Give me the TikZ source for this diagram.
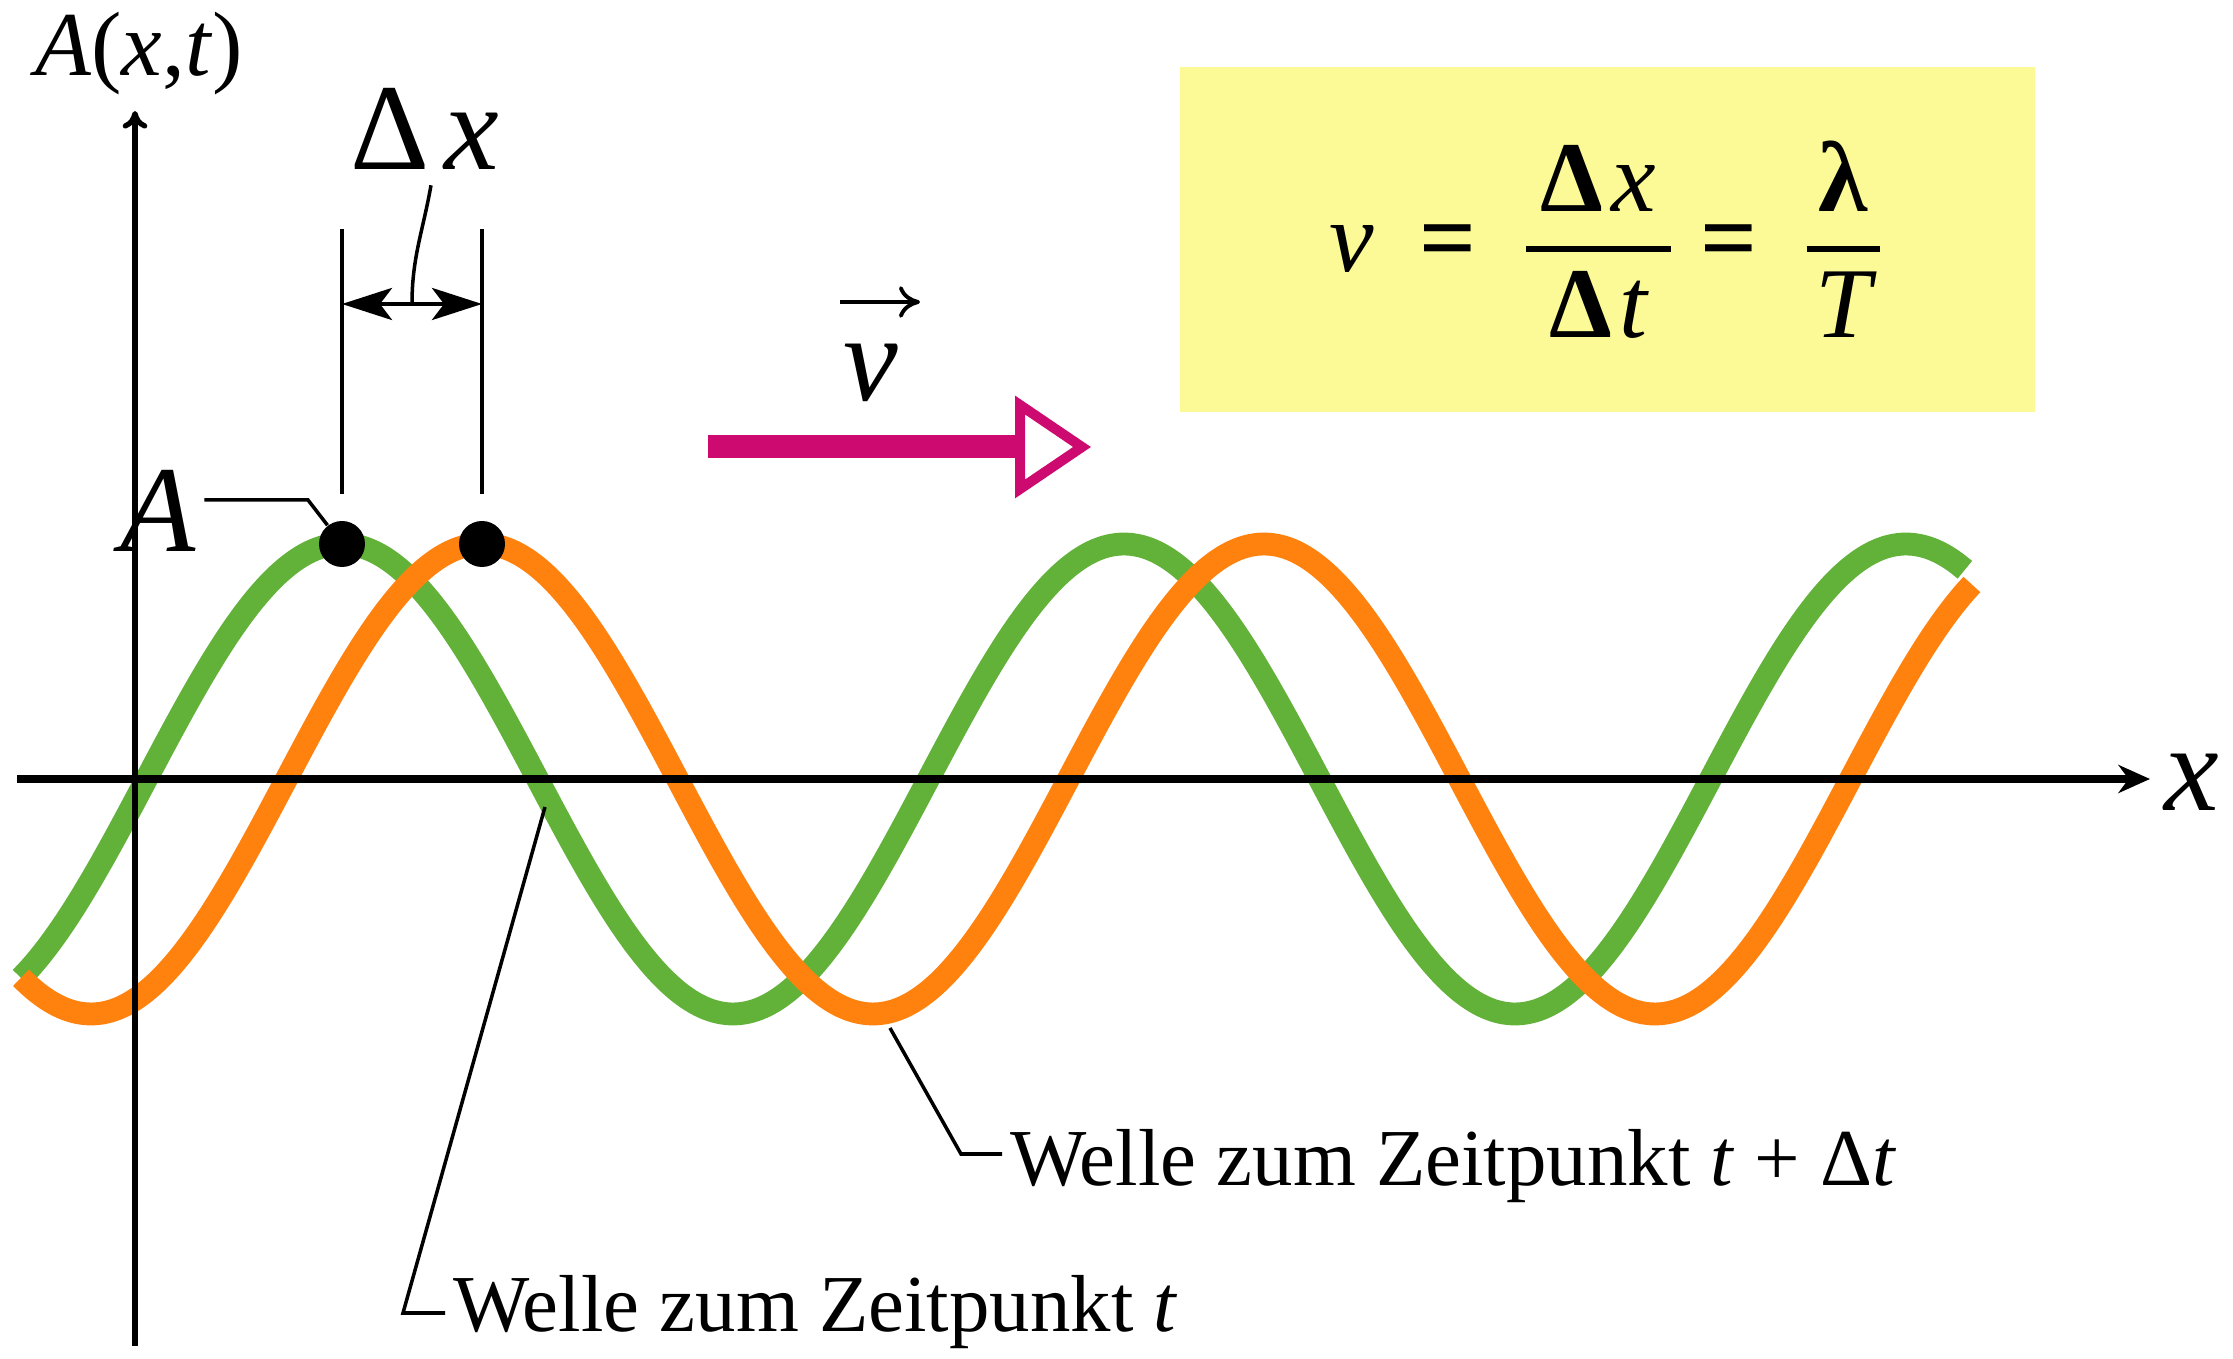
\documentclass[tikz,border=0pt]{standalone}
\usepackage{fontspec}
\setmainfont{Liberation Serif}
\usetikzlibrary{arrows.meta, calc}
\definecolor{WelleGruen}{RGB}{98,178,58}
\definecolor{WelleOrange}{RGB}{255,130,15}
\definecolor{PfeilMagenta}{RGB}{205,10,112}
\definecolor{KastenGelb}{RGB}{252,250,150}

\begin{document}
\begin{tikzpicture}[
	welle/.style={line width=6.5pt},
	punkt/.style={circle, fill=black, inner sep=0pt, minimum size=0.46cm},
	leitlinie/.style={black, line width=1pt},
	masslinie/.style={black, line width=1.3pt},
	grossschrift/.style={inner sep=0pt, font=\fontsize{35}{40}\selectfont},
	beschriftung/.style={inner sep=0pt, outer sep=0.08cm, anchor=west, font=\fontsize{23}{27}\selectfont},
	formelbox/.style={rectangle, fill=KastenGelb, inner sep=0pt, minimum width=8.55cm, minimum height=3.45cm, font=\fontsize{28.5}{33}\selectfont}]
	\useasboundingbox (0,0) rectangle (22.33,13.59);
	% ondas: verde en t, naranja en t + dt
	\foreach \fase/\col/\ende in {3.42/WelleGruen/19.65, 4.82/WelleOrange/19.72}{
		\draw[welle, \col] plot[domain=0.21:\ende, samples=220, smooth] (\x, {5.80+2.35*cos(360*(\x-\fase)/7.82)});
	}
	% ejes
	\draw[line width=2.5pt, -{Stealth[length=9pt, width=8pt]}] (0.17,5.80) -- (21.50,5.80);
	\draw[line width=1.5pt, -{To[length=5pt, width=7pt]}] (1.35,0.13) -- (1.35,12.48);
	\node[grossschrift] (abszisse) at (21.92,5.77) {\itshape x};
	\node[inner sep=0pt, font=\fontsize{26}{30}\selectfont] (ordinate) at (1.39,13.05) {\textit{A}(\textit{x},\textit{t})};
	% crestas y cota
	\node[punkt] (gipfelG) at (3.42,8.15) {};
	\node[punkt] (gipfelO) at (4.82,8.15) {};
	\foreach \g in {G,O}{
		\draw[masslinie] ($(gipfel\g)+(0,0.50)$) -- ++(0,2.65);
	}
	\coordinate (mitte) at (4.12,10.55);
	\draw[masslinie, -{Stealth[length=0.5cm, width=0.32cm, inset=0.12cm]}] (mitte) -- (mitte -| gipfelG);
	\draw[masslinie, -{Stealth[length=0.5cm, width=0.32cm, inset=0.12cm]}] (mitte) -- (mitte -| gipfelO);
	\node[grossschrift] (deltax) at (4.25,12.30) {Δ\kern0.12em\textit{x}};
	\draw[leitlinie] ([xshift=0.06cm, yshift=-0.15cm]deltax.south) to[out=-100, in=90] (mitte);
	\node[grossschrift] (amp) at (1.58,8.48) {\itshape A};
	\coordinate (knickA) at (3.08,8.59);
	\draw[leitlinie] ($(amp.east |- knickA)+(0.08,0)$) -- (knickA) -- (gipfelG);
	% velocidad
	\coordinate (vStart) at (7.08,9.12);
	\coordinate (vBasis) at (10.20,9.12);
	\coordinate (vSpitze) at (10.82,9.12);
	\draw[PfeilMagenta, line width=0.23cm] (vStart) -- (vBasis);
	\draw[PfeilMagenta, line width=0.1cm, fill=white, line join=miter] ($(vBasis)+(0,0.42)$) -- (vSpitze) -- ($(vBasis)-(0,0.42)$) -- cycle;
	\node[grossschrift] (vel) at (8.71,9.86) {\itshape v};
	\draw[line width=1.1pt, -{To[length=6pt, width=9pt]}] ([shift={(-0.31,0.71)}]vel.center) -- ++(0.8,0);
	% formula
	\node[formelbox] (formel) at (16.07,11.19) {$\displaystyle
		\mbox{\itshape v}\hspace{0.45em}\mbox{\bfseries =}\hspace{0.45em}
		{\mbox{\kern0.15em\bfseries Δ\kern0.08em\mdseries\itshape x\kern0.15em}\above1.8pt\mbox{\kern0.15em\bfseries Δ\kern0.08em\mdseries\itshape t\kern0.15em}}
		\hspace{0.25em}\mbox{\bfseries =}\hspace{0.45em}
		{\mbox{\kern0.12em\bfseries λ\kern0.12em}\above1.8pt\mbox{\kern0.08em\itshape T\kern0.08em}}$};
	% rotulos de las ondas
	\node[beschriftung] (textG) at (4.45,0.47) {Welle zum Zeitpunkt \textit{t}};
	\node[beschriftung] (textO) at (10.02,1.93) {Welle zum Zeitpunkt \textit{t} + Δ\textit{t}};
	\coordinate (startG) at (5.45,5.52);
	\coordinate (knickG) at (4.03,0.46);
	\draw[leitlinie] (startG) -- (knickG) -- (knickG -| textG.west);
	\coordinate (startO) at (8.90,3.31);
	\coordinate (knickO) at (9.61,2.05);
	\draw[leitlinie] (startO) -- (knickO) -- (knickO -| textO.west);
\end{tikzpicture}
\end{document}
